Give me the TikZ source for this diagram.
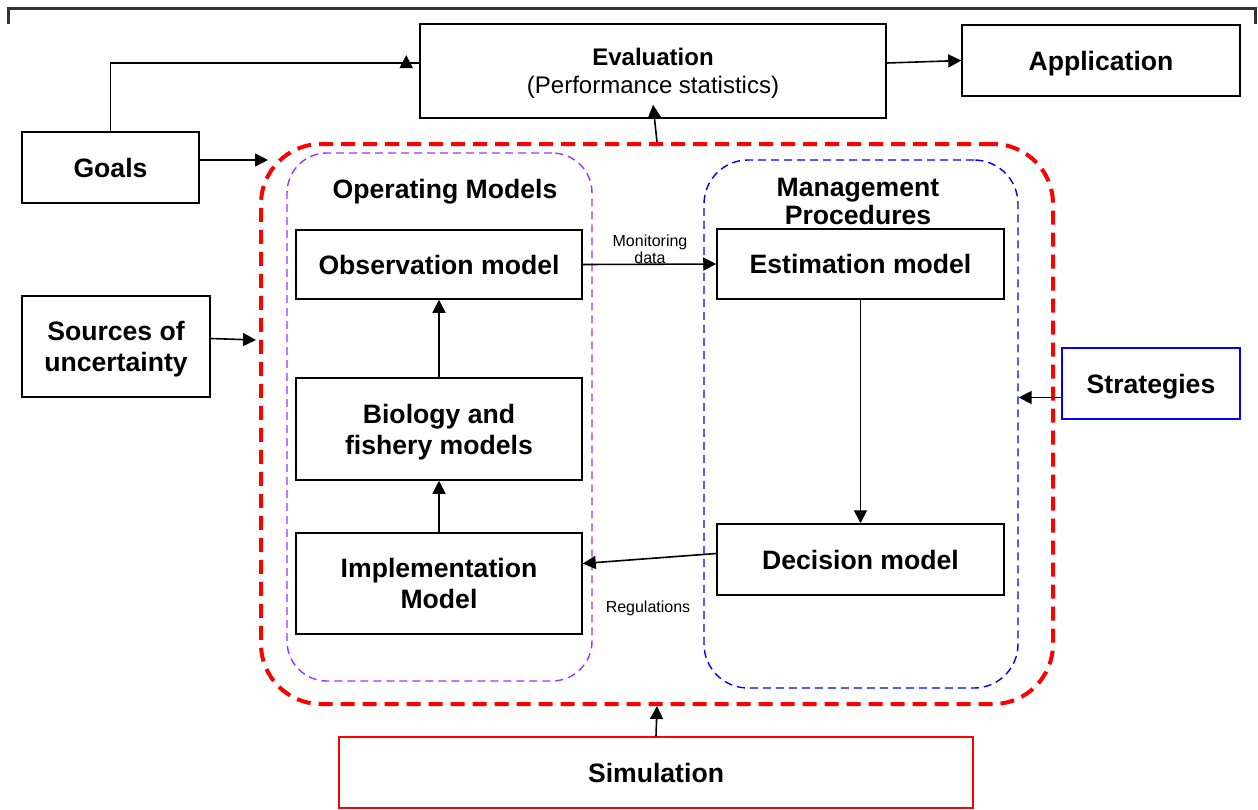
\documentclass[tikz,border=0pt]{standalone}
\usepackage{fontspec}
\setmainfont{Liberation Sans}
\usetikzlibrary{arrows.meta, positioning}
\definecolor{omviolet}{RGB}{153,51,255}
\definecolor{framegray}{RGB}{51,51,51}

\begin{document}
\begin{tikzpicture}[
  x=0.5pt, y=-0.5pt,
  box/.style={draw, line width=0.75pt, align=center, inner sep=0pt, text depth=0pt, font=\fontsize{13.3}{15.5}\selectfont\bfseries},
  container/.style={draw, dashed, inner sep=0pt},
  arrow/.style={-{Triangle[length=6.5pt,width=6.5pt]}, line width=0.8pt},
  note/.style={font=\fontsize{8}{8.5}\selectfont, align=center},
  title/.style={font=\fontsize{13.3}{14}\selectfont\bfseries, align=center}
]
\useasboundingbox (0,0) rectangle (1258,809);

% Frame
\draw[framegray, line width=1.5pt] (8,24) -- (8,8) -- (1255,8) -- (1255,24);

% Containers
\node[container, draw=red, line width=2pt, dash pattern=on 7pt off 4pt, rounded corners=30pt,
  minimum width=396pt, minimum height=280pt] (mse) at (657,424) {};
\node[container, draw=omviolet, line width=0.7pt, dash pattern=on 4pt off 2.5pt, rounded corners=20pt,
  minimum width=152.5pt, minimum height=264pt] (om) at (439.5,417) {};
\node[container, draw=blue, line width=0.7pt, dash pattern=on 4pt off 2.5pt, rounded corners=22pt,
  minimum width=157pt, minimum height=264pt] (mp) at (861,424) {};
\node[title] (omtitle) at (445,192) {Operating Models};
\node[title] (mptitle) at (858,201) {Management\\Procedures};

% Outer boxes
\node[box, minimum width=233pt, minimum height=47pt, font=\fontsize{12}{14}\selectfont] (eval) at (653,71)
  {\textbf{Evaluation}\\(Performance statistics)};
\node[box, minimum width=139pt, minimum height=35.5pt] (app) at (1101,60.5) {Application};
\node[box, minimum width=88.5pt, minimum height=35.5pt] (goals) at (110.5,167.5) {Goals};
\node[box, minimum width=94pt, minimum height=50.5pt] (sources) at (116,346.5) {Sources of\\uncertainty};
\node[box, draw=blue, minimum width=89pt, minimum height=35.5pt] (strat) at (1151,383.5) {Strategies};
\node[box, draw=red, line width=0.6pt, minimum width=317pt, minimum height=35.5pt] (sim) at (656,772.5) {Simulation};

% Operating model boxes
\node[box, minimum width=143pt, minimum height=34.5pt] (obs) at (439,264.5) {Observation model};
\node[box, minimum width=143pt, minimum height=51pt] (bio) at (439,429) {Biology and\\fishery models};
\node[box, minimum width=143pt, minimum height=50.5pt] (impl) at (439,583.5) {Implementation\\Model};

% Management procedure boxes
\node[box, minimum width=143.5pt, minimum height=35pt] (est) at (860.5,264) {Estimation model};
\node[box, minimum width=143.5pt, minimum height=35.5pt] (dec) at (860.5,559.5) {Decision model};

% Arrows
\coordinate (goalsend) at (268,160);
\coordinate (srcend) at (256,340);
\draw[line width=0.8pt] (goals.north) |- ([yshift=4pt]eval.west);
\draw[arrow] ([xshift=-6.5pt,yshift=4pt]eval.west) -- ++(0,-8);
\draw[arrow] ([yshift=4pt]eval.east) -- (app.west);
\draw[arrow] (goals.east |- goalsend) -- (goalsend);
\draw[arrow] ([yshift=4pt]sources.east) -- (srcend);
\draw[arrow] (mse.north) -- ([yshift=7pt]eval.south);
\draw[arrow] (sim.north) -- (mse.south);
\draw[arrow] ([yshift=-7pt]strat.west) -- ([yshift=-7pt]strat.west -| mp.east);
\draw[arrow] (impl.north) -- (bio.south);
\draw[arrow] (bio.north) -- (obs.south);
\draw[arrow] (est.south) -- (dec.north);
\draw[arrow] (obs.east) -- (est.west);
\draw[arrow] ([yshift=3pt]dec.west) -- ([yshift=10pt]impl.east);

% Labels
\node[note] (monlabel) at (650,249) {Monitoring\\data};
\node[note] (reglabel) at (648,608) {Regulations};

\end{tikzpicture}
\end{document}
